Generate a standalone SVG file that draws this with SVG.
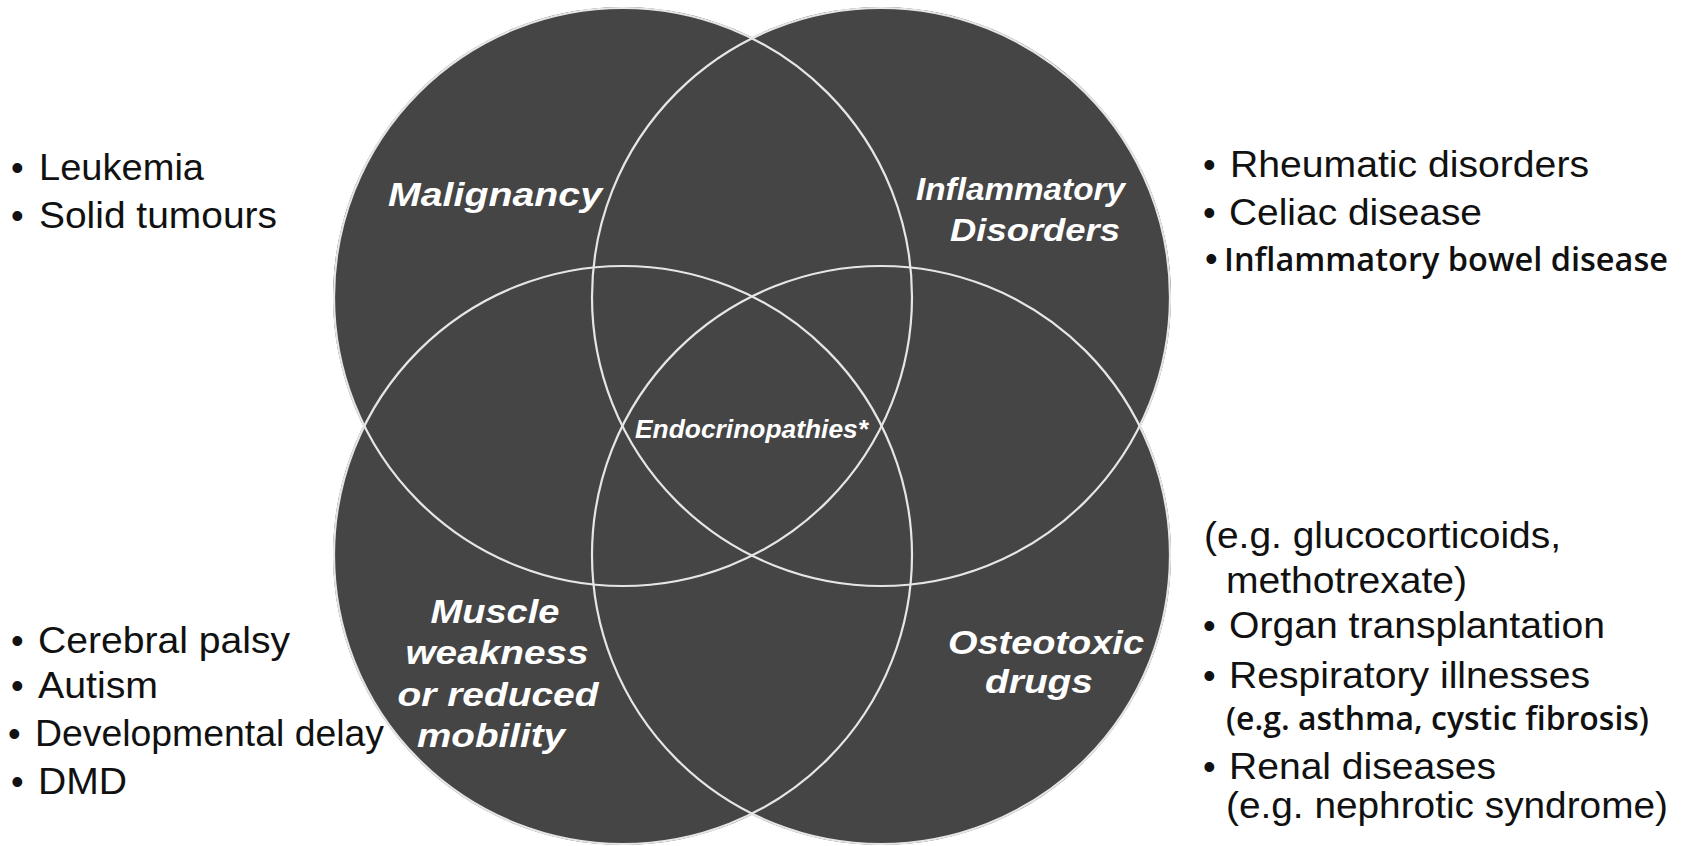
<svg xmlns="http://www.w3.org/2000/svg" width="1686" height="846" viewBox="0 0 1686 846">
<style>
  .fill { fill: #454545; }
  .ring { fill: none; stroke: #e6e6e6; stroke-width: 2.2; }
  .lbl { fill: #ffffff; font-family: "Liberation Sans", Arial, sans-serif; font-weight: bold; font-style: italic; }
  .txt { fill: #111111; font-family: "Liberation Sans", Arial, sans-serif; font-size: 36px; }
  .alt { fill: #111111; font-family: "Open Sans", "Noto Sans", sans-serif; font-size: 33px; font-weight: 600; }
  .bul { fill: #111111; font-family: "Liberation Sans", Arial, sans-serif; font-size: 36px; }
</style>
<rect width="1686" height="846" fill="#ffffff"/>

<g id="venn-fills">
  <circle class="fill" cx="623" cy="297" r="290"/>
  <circle class="fill" cx="881" cy="297" r="290"/>
  <circle class="fill" cx="623" cy="555" r="290"/>
  <circle class="fill" cx="881" cy="555" r="290"/>
</g>
<g id="venn-outlines">
  <circle class="ring" cx="623" cy="297" r="289"/>
  <circle class="ring" cx="881" cy="297" r="289"/>
  <circle class="ring" cx="623" cy="555" r="289"/>
  <circle class="ring" cx="881" cy="555" r="289"/>
</g>

<g id="node-malignancy">
  <text class="lbl" x="388" y="206" font-size="34" textLength="214" lengthAdjust="spacingAndGlyphs">Malignancy</text>
  <text class="bul" x="11" y="180">•</text>
  <text class="txt" x="39" y="180" textLength="165" lengthAdjust="spacingAndGlyphs">Leukemia</text>
  <text class="bul" x="11" y="228">•</text>
  <text class="txt" x="39" y="228" textLength="238" lengthAdjust="spacingAndGlyphs">Solid tumours</text>
</g>

<g id="node-inflammatory">
  <text class="lbl" x="1125" y="200" font-size="31" text-anchor="end" textLength="209" lengthAdjust="spacingAndGlyphs">Inflammatory</text>
  <text class="lbl" x="1120" y="241" font-size="31" text-anchor="end" textLength="170" lengthAdjust="spacingAndGlyphs">Disorders</text>
  <text class="bul" x="1203" y="177">•</text>
  <text class="txt" x="1230" y="177" textLength="359" lengthAdjust="spacingAndGlyphs">Rheumatic disorders</text>
  <text class="bul" x="1203" y="225">•</text>
  <text class="txt" x="1229" y="225" textLength="253" lengthAdjust="spacingAndGlyphs">Celiac disease</text>
  <text class="bul" x="1205" y="271">•</text>
  <text class="alt" x="1224" y="271" textLength="444" lengthAdjust="spacingAndGlyphs">Inflammatory bowel disease</text>
</g>

<g id="node-endocrinopathies">
  <text class="lbl" x="635" y="438" font-size="25" textLength="233" lengthAdjust="spacingAndGlyphs">Endocrinopathies*</text>
</g>

<g id="node-muscle">
  <text class="lbl" x="495" y="623" font-size="34" text-anchor="middle" textLength="129" lengthAdjust="spacingAndGlyphs">Muscle</text>
  <text class="lbl" x="497" y="664" font-size="34" text-anchor="middle" textLength="183" lengthAdjust="spacingAndGlyphs">weakness</text>
  <text class="lbl" x="498" y="706" font-size="34" text-anchor="middle" textLength="201" lengthAdjust="spacingAndGlyphs">or reduced</text>
  <text class="lbl" x="491" y="747" font-size="34" text-anchor="middle" textLength="148" lengthAdjust="spacingAndGlyphs">mobility</text>
  <text class="bul" x="11" y="653">•</text>
  <text class="txt" x="38" y="653" textLength="252" lengthAdjust="spacingAndGlyphs">Cerebral palsy</text>
  <text class="bul" x="11" y="698">•</text>
  <text class="txt" x="38" y="698" textLength="120" lengthAdjust="spacingAndGlyphs">Autism</text>
  <text class="bul" x="8" y="746">•</text>
  <text class="txt" x="35" y="746" textLength="349" lengthAdjust="spacingAndGlyphs">Developmental delay</text>
  <text class="bul" x="11" y="794">•</text>
  <text class="txt" x="38" y="794" textLength="89" lengthAdjust="spacingAndGlyphs">DMD</text>
</g>

<g id="node-osteotoxic">
  <text class="lbl" x="1046" y="654" font-size="34" text-anchor="middle" textLength="196" lengthAdjust="spacingAndGlyphs">Osteotoxic</text>
  <text class="lbl" x="1039" y="693" font-size="34" text-anchor="middle" textLength="108" lengthAdjust="spacingAndGlyphs">drugs</text>
  <text class="txt" x="1204" y="548" textLength="357" lengthAdjust="spacingAndGlyphs">(e.g. glucocorticoids,</text>
  <text class="txt" x="1226" y="593" textLength="241" lengthAdjust="spacingAndGlyphs">methotrexate)</text>
  <text class="bul" x="1203" y="638">•</text>
  <text class="txt" x="1229" y="638" textLength="376" lengthAdjust="spacingAndGlyphs">Organ transplantation</text>
  <text class="bul" x="1203" y="688">•</text>
  <text class="txt" x="1229" y="688" textLength="361" lengthAdjust="spacingAndGlyphs">Respiratory illnesses</text>
  <text class="alt" x="1226" y="730" textLength="423" lengthAdjust="spacingAndGlyphs">(e.g. asthma, cystic fibrosis)</text>
  <text class="bul" x="1203" y="779">•</text>
  <text class="txt" x="1229" y="779" textLength="267" lengthAdjust="spacingAndGlyphs">Renal diseases</text>
  <text class="txt" x="1226" y="818" textLength="442" lengthAdjust="spacingAndGlyphs">(e.g. nephrotic syndrome)</text>
</g>
</svg>
